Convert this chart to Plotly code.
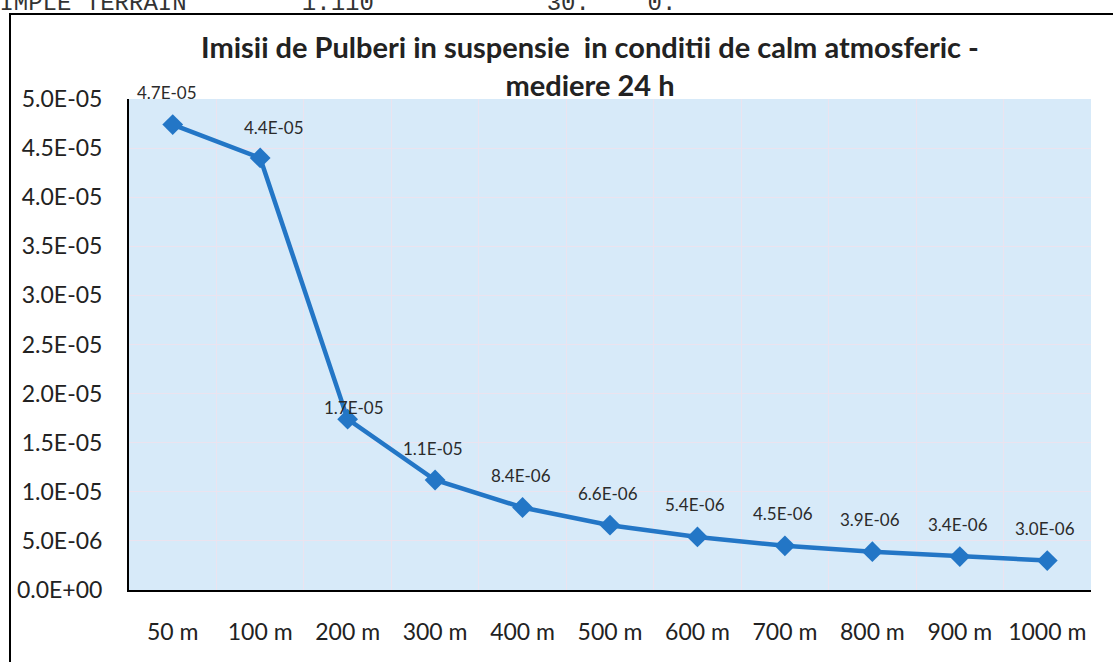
import plotly.graph_objects as go

categories = ["50 m", "100 m", "200 m", "300 m", "400 m", "500 m", "600 m", "700 m", "800 m", "900 m", "1000 m"]
values = [4.74e-05, 4.40e-05, 1.74e-05, 1.12e-05, 8.4e-06, 6.6e-06, 5.4e-06, 4.5e-06, 3.9e-06, 3.4e-06, 3.0e-06]
labels = ["4.7E-05", "4.4E-05", "1.7E-05", "1.1E-05", "8.4E-06", "6.6E-06", "5.4E-06", "4.5E-06", "3.9E-06", "3.4E-06", "3.0E-06"]
ytick_vals = [i * 5e-06 for i in range(11)]
ytick_text = ["0.0E+00", "5.0E-06", "1.0E-05", "1.5E-05", "2.0E-05", "2.5E-05", "3.0E-05", "3.5E-05", "4.0E-05", "4.5E-05", "5.0E-05"]
title_text = "<b>Imisii de Pulberi in suspensie  in conditii de calm atmosferic -<br>mediere 24 h</b>"
header_text = "SIMPLE TERRAIN        1.110            30.    0."

# label placement tweaks (style, in pixels): category -> (xshift, yshift)
label_shift_default = (-2, 32)
label_shift_override = {"50 m": (-6, 32), "100 m": (14, 30), "200 m": (6, 12)}

FONT = "Lato, Open Sans, sans-serif"
W, H = 1113, 662
ml, mr, mt, mb = 129, 22, 99, 72
pw, ph = W - ml - mr, H - mt - mb

def px(x):
    return (x - ml) / pw

def py(y):
    return 1 - (y - mt) / ph

LINE = "#2376c6"

fig = go.Figure()
fig.add_trace(go.Scatter(
    x=categories, y=values,
    mode="lines+markers",
    line=dict(color=LINE, width=4.5),
    marker=dict(symbol="diamond", size=16, color=LINE),
    cliponaxis=False,
    showlegend=False,
))

annotations = []
for c, v, t in zip(categories, values, labels):
    xs, ys = label_shift_override.get(c, label_shift_default)
    annotations.append(dict(
        x=c, y=v, xref="x", yref="y", text=t, showarrow=False,
        yshift=ys, xshift=xs,
        font=dict(family=FONT, size=17, color="#2b2b2b"),
    ))

annotations.append(dict(
    text=header_text,
    xref="paper", yref="paper", x=px(-17), y=py(3), xanchor="left", yanchor="middle",
    showarrow=False, font=dict(family="Liberation Mono, monospace", size=24, color="#333333"),
))

annotations.append(dict(
    text=title_text,
    xref="paper", yref="paper", x=px(590), y=py(66), xanchor="center", yanchor="middle",
    showarrow=False, font=dict(family=FONT, size=29, color="#222222"),
))

fig.update_layout(
    width=W, height=H,
    margin=dict(l=ml, r=mr, t=mt, b=mb, autoexpand=False),
    paper_bgcolor="white",
    plot_bgcolor="#d7eaf9",
    font=dict(family=FONT, color="#222222"),
    xaxis=dict(
        type="category", tickson="boundaries",
        showgrid=True, gridcolor="#ebe3ef", gridwidth=1,
        showline=True, linecolor="black", linewidth=2,
        ticks="", tickfont=dict(family=FONT, size=23, color="#222222"),
        ticklabelstandoff=20,
        range=[-0.5, 10.5],
        automargin=False,
    ),
    yaxis=dict(
        range=[0, 5e-05], tickvals=ytick_vals, ticktext=ytick_text,
        showgrid=True, gridcolor="#ebe3ef", gridwidth=1,
        showline=True, linecolor="black", linewidth=2,
        ticks="", tickfont=dict(family=FONT, size=23, color="#222222"),
        ticklabelstandoff=20,
        zeroline=False,
        automargin=False,
    ),
    shapes=[dict(
        type="rect", xref="paper", yref="paper",
        x0=px(10), x1=px(1125), y0=py(14), y1=py(680),
        line=dict(color="black", width=2), fillcolor="rgba(0,0,0,0)", layer="below",
    )],
    annotations=annotations,
)

fig.write_html("out.html", config={"displayModeBar": False},
               post_script="document.body.style.margin='0';document.body.style.overflow='hidden';")
